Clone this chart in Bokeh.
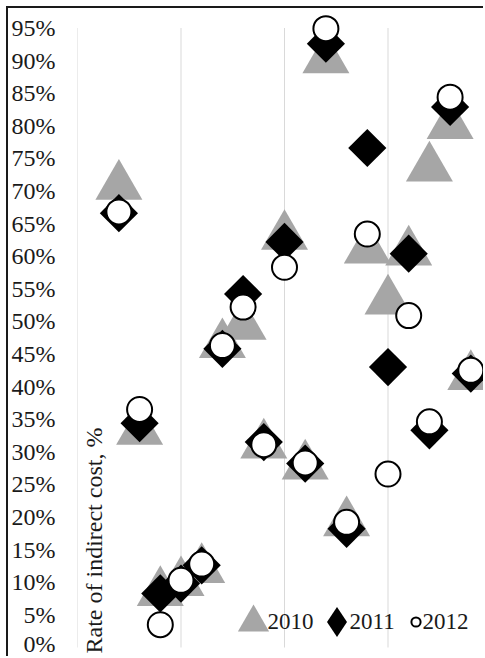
import math
from bokeh.plotting import figure
from bokeh.models import (Range1d, FixedTicker, NumeralTickFormatter, Label,
                          Legend, LegendItem, ColumnDataSource)
from bokeh.transform import dodge
from bokeh.embed import file_html
from bokeh.resources import INLINE

# ---------------- data ----------------
units = list(range(2, 20))
rate_2010 = [71.8, 34.2, 9.5, 11.0, 13.0, 47.5, 50.3, 32.1, 64.1, 28.9,
             91.2, 20.2, 62.0, 54.2, 61.7, 74.6, 81.1, 42.6]
rate_2011 = [66.6, 34.4, 8.3, 9.8, 12.6, 45.8, 54.2, 31.5, 62.2, 28.2,
             92.6, 18.2, 76.6, 43.0, 60.4, 33.3, 82.9, 42.0]
rate_2012 = [66.8, 36.5, 3.5, 10.3, 12.8, 46.3, 52.2, 31.1, 58.3, 28.3,
             94.9, 19.2, 63.4, 26.6, 50.9, 34.6, 84.4, 42.5]
series_names = ["2010", "2011", "2012"]
y_ticks = [round(i * 0.05, 2) for i in range(20)]
x_grid = [0, 5, 10, 15]
y_top = 0.95
axis_title = "Rate of indirect cost, %"

src = ColumnDataSource(dict(
    x=units,
    y10=[v / 100 for v in rate_2010],
    y11=[v / 100 for v in rate_2011],
    y12=[v / 100 for v in rate_2012],
))

FONT = "Liberation Serif"
TXT = "#1a1a1a"
PX_PER_UNIT = 652.1   # vertical pixels per 100 %

p = figure(width=477, height=650, output_backend="svg", toolbar_location=None,
           x_range=Range1d(0, 19.71),
           y_range=Range1d(-11 / PX_PER_UNIT, 639 / PX_PER_UNIT),
           x_axis_location=None,
           min_border_left=67, min_border_right=0, min_border_top=0,
           min_border_bottom=0)
p.styles = {"margin": "6px 0px 0px 6px",
            "border-top": "2px solid #1a1a1a",
            "border-left": "2px solid #1a1a1a"}
p.outline_line_color = None
p.xgrid.grid_line_color = None
p.ygrid.grid_line_color = None
p.background_fill_color = "white"
p.border_fill_color = "white"

yax = p.yaxis[0]
yax.ticker = FixedTicker(ticks=y_ticks)
yax.formatter = NumeralTickFormatter(format="0%")
yax.axis_line_color = None
yax.major_tick_line_color = None
yax.minor_tick_line_color = None
yax.major_tick_out = 0
yax.major_tick_in = 0
yax.major_label_standoff = 22
yax.major_label_text_font = FONT
yax.major_label_text_font_size = "24px"
yax.major_label_text_color = TXT

# vertical gridlines
p.segment(x0=x_grid, y0=[0] * len(x_grid), x1=x_grid, y1=[y_top] * len(x_grid),
          line_color="#D9D9D9", line_width=1)

r10 = p.scatter(x="x", y=dodge("y10", -0.0104), source=src, marker="triangle",
                size=47, fill_color="#A6A6A6", line_color=None)
r11 = p.scatter(x="x", y="y11", source=src, marker="square", angle=math.pi / 4,
                size=27, fill_color="black", line_color=None)
r12 = p.scatter(x="x", y="y12", source=src, marker="circle", size=25,
                fill_color="white", line_color="black", line_width=2)
# key swatch for 2011 (upright diamond as in the key), not drawn on the plot
r11_key = p.scatter(x="x", y="y11", source=src, marker="diamond",
                    fill_color="black", line_color=None, visible=False)

p.add_layout(Label(text=axis_title, x=16, y=5, x_units="screen", y_units="screen",
                   angle=math.pi / 2, text_align="left", text_baseline="middle",
                   text_font=FONT, text_font_size="24px", text_color=TXT))


def key_swatch(renderer, g, loc):
    return Legend(items=[LegendItem(label="", renderers=[renderer])],
                  location=loc, orientation="horizontal",
                  glyph_width=g, glyph_height=g, label_standoff=0,
                  label_width=0, padding=0, margin=0, spacing=0,
                  border_line_color=None, background_fill_alpha=0)


p.add_layout(key_swatch(r10, 78, (137, -3)))
p.add_layout(key_swatch(r11_key, 75, (222, -1)))
p.add_layout(key_swatch(r12, 23, (327, 25)))

# key texts
for name, lx in zip(series_names, [190, 272, 345]):
    p.add_layout(Label(text=name, x=lx, y=37, x_units="screen", y_units="screen",
                       text_align="left", text_baseline="middle",
                       text_font=FONT, text_font_size="23px", text_color=TXT))

open("out.html", "w").write(file_html(p, INLINE))
